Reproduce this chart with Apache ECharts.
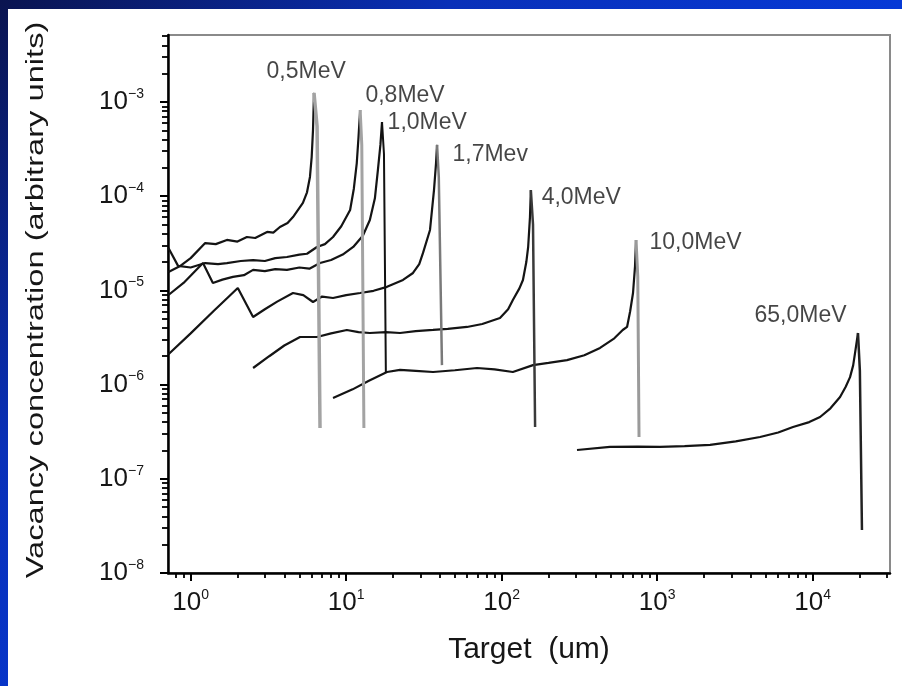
<!DOCTYPE html>
<html><head><meta charset="utf-8">
<script src="https://cdn.jsdelivr.net/npm/echarts@6/dist/echarts.min.js"></script>
<style>
html,body{margin:0;padding:0;width:902px;height:686px;overflow:hidden;}
body{position:relative;background:radial-gradient(circle at 0 0,#0a1450 0px,#0930b8 450px,#0639d6 900px);}
#chart{position:absolute;left:8px;top:9px;width:894px;height:677px;background:#fff;}
</style></head><body><div id="chart"></div>
<script>
// ---- tick labels ----
const xTickLabels = [1, 10, 100, 1000, 10000];
const yTickLabels = [1e-8, 1e-7, 1e-6, 1e-5, 1e-4, 1e-3];

// ---- curve annotations ----
const energyNames = ['0,5MeV', '0,8MeV', '1,0MeV', '1,7Mev', '4,0MeV', '10,0MeV', '65,0MeV'];
const annoX = [3.10, 13.4, 18.6, 48.6, 182, 899, 4256];
const annoY = [2.06e-3, 1.16e-3, 5.98e-4, 2.74e-4, 9.57e-5, 3.18e-5, 5.34e-6];

// ---- series values [target (um), vacancy concentration] ----
const curve05 = [[0.72,1.57e-5],[0.85,1.8e-5],[1.0,2.2e-5],[1.24,3.18e-5],[1.45,3.1e-5],[1.71,3.43e-5],[2.0,3.3e-5],[2.3,3.69e-5],[2.6,3.6e-5],[3.1,4.17e-5],[3.4,4.1e-5],[3.75,4.71e-5],[4.2,5.2e-5],[4.55,6.01e-5],[5.27,8.47e-5],[5.6,1.1e-4],[5.85,1.6e-4],[6.0,2.6e-4],[6.12,5.05e-4],[6.21,1.25e-3]];
const drop05 = [[6.21,1.25e-3],[6.5,5.5e-4],[6.79,3.46e-7]];

const curve08 = [[0.72,2.82e-5],[0.83,1.82e-5],[1.0,1.75e-5],[1.24,1.95e-5],[1.5,1.9e-5],[1.71,1.95e-5],[2.1,2.05e-5],[2.52,2.1e-5],[3.0,2.05e-5],[3.5,2.2e-5],[4.16,2.26e-5],[5.0,2.4e-5],[5.6,2.45e-5],[6.49,2.89e-5],[7.3,3.1e-5],[8.23,3.69e-5],[9.3,4.8e-5],[10.6,7.14e-5],[11.2,1.2e-4],[11.7,2.25e-4],[12.0,4.2e-4],[12.3,8.22e-4]];
const drop08 = [[12.3,8.22e-4],[12.6,3.5e-4],[13.0,3.46e-7]];

const curve10 = [[0.72,8.93e-6],[0.9,1.2e-5],[1.2,1.95e-5],[1.39,1.2e-5],[1.6,1.3e-5],[1.87,1.39e-5],[2.2,1.45e-5],[2.52,1.65e-5],[3.0,1.6e-5],[3.5,1.68e-5],[4.16,1.65e-5],[5.0,1.75e-5],[5.8,1.7e-5],[6.79,1.95e-5],[8.0,2.1e-5],[9.5,2.4e-5],[11.1,2.89e-5],[12.8,3.8e-5],[14.2,5.59e-5],[15.3,9.5e-5],[16.0,1.9e-4],[16.6,3.5e-4],[17.0,6.13e-4]];
const drop10 = [[17.0,6.13e-4],[17.5,2.8e-4],[18.0,1.33e-6]];

const curve17 = [[0.72,2.1e-6],[1.0,3.5e-6],[1.4,6.0e-6],[2.01,1.06e-5],[2.52,5.22e-6],[3.0,6.3e-6],[3.6,7.6e-6],[4.55,9.38e-6],[5.3,8.9e-6],[6.12,7.53e-6],[7.0,8.6e-6],[8.23,8.3e-6],[10.0,8.9e-6],[12.3,9.38e-6],[15.0,9.9e-6],[18.3,1.09e-5],[23.2,1.29e-5],[26.9,1.53e-5],[29.5,1.9e-5],[31.2,2.5e-5],[34.6,4.38e-5],[36.7,1.16e-4],[37.8,2.2e-4],[38.4,3.5e-4]];
const drop17 = [[38.4,3.5e-4],[39.4,1.6e-4],[41.3,1.61e-6]];

const curve40 = [[2.52,1.5e-6],[3.2,2.0e-6],[4.0,2.6e-6],[5.05,3.2e-6],[6.49,3.2e-6],[8.0,3.5e-6],[10.1,3.8e-6],[12.0,3.6e-6],[14.2,3.53e-6],[18.0,3.6e-6],[22.2,3.53e-6],[28.0,3.7e-6],[36.2,3.8e-6],[45.0,3.9e-6],[59.8,4.09e-6],[75.0,4.4e-6],[97.5,5.1e-6],[110,6.3e-6],[118,7.91e-6],[130,1.05e-5],[137,1.29e-5],[144,2.0e-5],[148,2.89e-5],[152,6.0e-5],[154,1.16e-4]];
const drop40 = [[154,1.16e-4],[159,5.0e-5],[164,3.55e-7]];

const curve100 = [[8.23,7.21e-7],[11.0,8.9e-7],[14.0,1.1e-6],[18.3,1.36e-6],[22.2,1.43e-6],[28.0,1.4e-6],[36.2,1.36e-6],[50,1.42e-6],[69.4,1.5e-6],[90,1.45e-6],[118,1.36e-6],[159,1.61e-6],[200,1.7e-6],[263,1.82e-6],[340,2.05e-6],[429,2.45e-6],[530,3.1e-6],[600,3.8e-6],[640,4.09e-6],[670,6.0e-6],[699,9.38e-6],[720,1.8e-5],[731,3.43e-5]];
const drop100 = [[731,3.43e-5],[750,1.4e-5],[764,2.78e-7]];

const curve650 = [[305,2.02e-7],[497,2.18e-7],[750,2.2e-7],[1042,2.18e-7],[1500,2.22e-7],[2188,2.29e-7],[3200,2.5e-7],[4585,2.78e-7],[6000,3.1e-7],[7470,3.55e-7],[9500,4.0e-7],[11150,4.53e-7],[13000,5.6e-7],[14990,7.39e-7],[16300,9.5e-7],[17380,1.2e-6],[18200,1.6e-6],[18720,2.17e-6],[19550,3.53e-6]];
const drop650 = [[19550,3.53e-6],[20100,1.4e-6],[20730,2.86e-8]];

// ---- axis ranges ----
const xMin = 0.715, xMax = 31400;
const yMin = 1e-8, yMax = 5.14e-3;

function minorTicks(lo, hi) {
  const out = [];
  for (let e = -9; e <= 5; e++) {
    for (let k = 2; k <= 9; k++) {
      const v = k * Math.pow(10, e);
      if (v > lo && v < hi) out.push(v);
    }
  }
  return out;
}
const xMinor = minorTicks(xMin, xMax);
const yMinor = minorTicks(yMin, yMax);

const FONT = '"Liberation Sans", Arial, Helvetica, sans-serif';
const TXT = '#161616';

function supFmt(v) {
  const num = (typeof v === 'object' && v !== null) ? v.value : Number(v);
  const e = Math.round(Math.log10(num));
  return '{b|10}{s|' + (e < 0 ? '\u2212' + (-e) : e) + '}';
}
const rich = {
  b: { fontSize: 26, fontFamily: FONT, color: TXT, lineHeight: 30 },
  s: { fontSize: 14, fontFamily: FONT, color: TXT, lineHeight: 15, verticalAlign: 'top' }
};

const CURVE = '#141414';
function lineSeries(name, data, color, width) {
  return {
    name: name, type: 'line', data: data, showSymbol: false, symbol: 'none',
    xAxisIndex: 0, yAxisIndex: 0, silent: true,
    lineStyle: { color: color, width: width }, z: 3
  };
}

const chart = echarts.init(document.getElementById('chart'), null, { renderer: 'canvas' });
chart.setOption({
  animation: false,
  backgroundColor: '#ffffff',
  grid: { left: 160, right: 12, top: 26, bottom: 113, show: true, borderColor: '#8a8a8a', borderWidth: 2, backgroundColor: 'transparent' },
  xAxis: [
    {
      type: 'log', logBase: 10, min: xMin, max: xMax, position: 'bottom',
      name: 'Target  (um)', nameLocation: 'middle', nameGap: 62,
      nameTextStyle: { fontSize: 30, fontFamily: FONT, color: TXT },
      axisLine: { show: true, lineStyle: { color: '#000', width: 2.5 } },
      axisTick: { show: true, inside: false, length: 8, lineStyle: { color: '#000', width: 2 }, customValues: xTickLabels },
      axisLabel: { show: true, customValues: xTickLabels, formatter: supFmt, margin: 15, rich: rich },
      splitLine: { show: false }, minorTick: { show: false }, minorSplitLine: { show: false }
    },
    {
      type: 'log', logBase: 10, min: xMin, max: xMax, position: 'bottom', offset: 0,
      axisLine: { show: false },
      axisTick: { show: true, inside: false, length: 5, lineStyle: { color: '#000', width: 1.8 }, customValues: xMinor },
      axisLabel: { show: false }, splitLine: { show: false }
    }
  ],
  yAxis: [
    {
      type: 'log', logBase: 10, min: yMin, max: yMax, position: 'left',
      axisLine: { show: true, lineStyle: { color: '#000', width: 2.5 } },
      axisTick: { show: true, inside: false, length: 8, lineStyle: { color: '#000', width: 2 }, customValues: yTickLabels },
      axisLabel: { show: true, customValues: yTickLabels, formatter: supFmt, margin: 24, rich: rich },
      splitLine: { show: false }, minorTick: { show: false }, minorSplitLine: { show: false }
    },
    {
      type: 'log', logBase: 10, min: yMin, max: yMax, position: 'left', offset: 0,
      axisLine: { show: false },
      axisTick: { show: true, inside: false, length: 6, lineStyle: { color: '#000', width: 1.8 }, customValues: yMinor },
      axisLabel: { show: false }, splitLine: { show: false }
    }
  ],
  graphic: [{
    type: 'text', x: 29, y: 291, rotation: Math.PI / 2, scaleX: 1.42, scaleY: 1,
    style: { text: 'Vacancy concentration (arbitrary units)', font: '23px ' + FONT, fill: TXT, align: 'center', verticalAlign: 'middle' },
    silent: true
  }],
  series: [
    lineSeries('0,5MeV', curve05, CURVE, 2.2),
    lineSeries('0,8MeV', curve08, CURVE, 2.2),
    lineSeries('1,0MeV', curve10, CURVE, 2.2),
    lineSeries('1,7Mev', curve17, CURVE, 2.2),
    lineSeries('4,0MeV', curve40, CURVE, 2.2),
    lineSeries('10,0MeV', curve100, CURVE, 2.2),
    lineSeries('65,0MeV', curve650, CURVE, 2.2),
    lineSeries('0,5MeV drop', drop05, '#a3a3a3', 3.5),
    lineSeries('0,8MeV drop', drop08, '#a3a3a3', 3),
    lineSeries('1,0MeV drop', drop10, '#111111', 2),
    lineSeries('1,7Mev drop', drop17, '#7a7a7a', 2.5),
    lineSeries('4,0MeV drop', drop40, '#3a3a3a', 2.5),
    lineSeries('10,0MeV drop', drop100, '#9a9a9a', 3),
    lineSeries('65,0MeV drop', drop650, '#222222', 2.5),
    {
      name: 'labels', type: 'scatter', xAxisIndex: 0, yAxisIndex: 0, silent: true,
      symbol: 'circle', symbolSize: 1, itemStyle: { color: 'rgba(0,0,0,0)' },
      data: energyNames.map((n, i) => ({ name: n, value: [annoX[i], annoY[i]] })),
      label: { show: true, position: [0, 0], align: 'left', verticalAlign: 'middle', formatter: '{b}', fontSize: 23, fontFamily: FONT, color: TXT },
      z: 5
    }
  ]
});
</script></body></html>
